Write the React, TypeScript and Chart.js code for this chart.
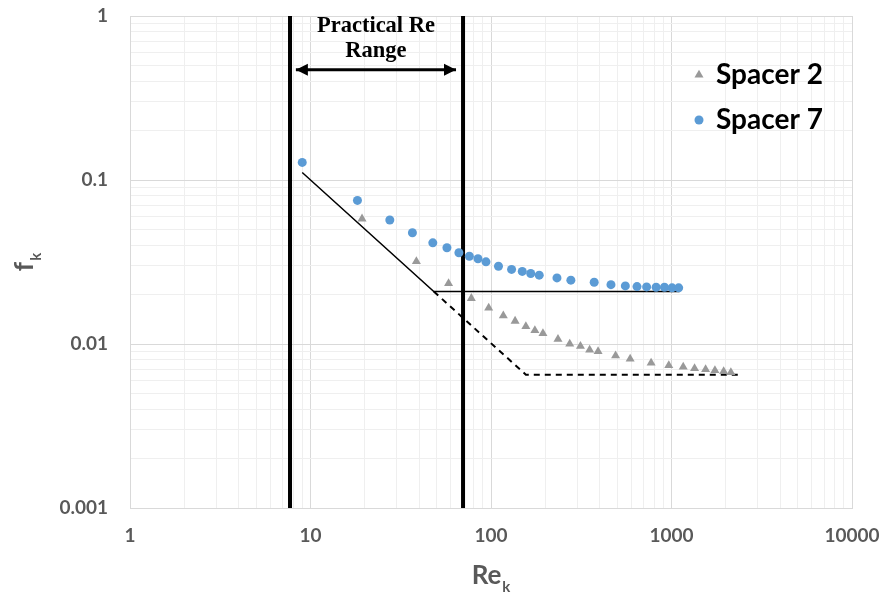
import React, { useEffect, useRef } from 'react';
import { Chart, registerables } from 'chart.js';

Chart.register(...registerables);

// ---------- data ----------
const X_TICK_LABELS = ['1', '10', '100', '1000', '10000'];
const Y_TICK_LABELS = ['0.001', '0.01', '0.1', '1'];

const SERIES_NAMES = ['Spacer 2', 'Spacer 7'];

const RE_SPACER2 = [19.3, 38.6, 58.2, 77.8, 97.1, 117, 136, 156, 175, 194, 235, 273, 313, 352, 392, 490, 590, 771, 966, 1161, 1342, 1545, 1740, 1945, 2133];
const F_SPACER2 = [0.058, 0.0319, 0.0234, 0.019, 0.0166, 0.0149, 0.0138, 0.0128, 0.0121, 0.0116, 0.0107, 0.0100, 0.0097, 0.0092, 0.0090, 0.0085, 0.0081, 0.00767, 0.0074, 0.00725, 0.0071, 0.0070, 0.0069, 0.0068, 0.0067];

const RE_SPACER7 = [9.0, 18.2, 27.5, 36.7, 47.6, 57, 66.4, 75.9, 84.7, 93.8, 110, 130, 149, 166, 185, 232, 277, 373, 462, 555, 644, 728, 822, 914, 1007, 1096];
const F_SPACER7 = [0.128, 0.0751, 0.057, 0.0477, 0.0414, 0.0386, 0.036, 0.0343, 0.0331, 0.0317, 0.0298, 0.0285, 0.0277, 0.0269, 0.0263, 0.0253, 0.0245, 0.0238, 0.023, 0.0226, 0.0224, 0.0223, 0.0222, 0.0222, 0.022, 0.022];

const TREND_SOLID_X = [9, 48.2, 1108];
const TREND_SOLID_Y = [0.111, 0.0209, 0.0209];
const TREND_DASH_X = [48.2, 156, 2355];
const TREND_DASH_Y = [0.0209, 0.0065, 0.0065];

const RANGE_LINES_X = [7.7, 70];
const ARROW_X = [8.3, 64];
const ARROW_Y = 0.47;
const ANNOTATION_LINES = ['Practical Re', 'Range'];

const X_TITLE = ['Re', 'k'];
const Y_TITLE = ['f', 'k'];

// ---------- helpers ----------
const AXIS_GRAY = '#595959';
const TICK_FONT = { family: 'Lato', size: 19, weight: 'bold' as const };

const pairs = (xs: number[], ys: number[]) => xs.map((x, i) => ({ x, y: ys[i] }));

const decadeTicks = (labels: string[]) => {
  const decades = labels.map(Number);
  const vals: number[] = [];
  for (let i = 0; i < decades.length - 1; i++) {
    for (let k = 1; k <= 9; k++) vals.push(decades[i] * k);
  }
  vals.push(decades[decades.length - 1]);
  return vals;
};

const labelFor = (labels: string[], v: number) => {
  const hit = labels.find((l) => Math.abs(Number(l) - v) / v < 1e-9);
  return hit ?? '';
};

const isDecade = (labels: string[], v: number | undefined) =>
  v !== undefined && labelFor(labels, v) !== '';

const zeroPadding = (s: any) => {
  s.paddingTop = 0;
  s.paddingBottom = 0;
  s.paddingLeft = 0;
  s.paddingRight = 0;
};

const annotationPlugin = {
  id: 'annotations',
  afterDatasetsDraw(chart: any) {
    const { ctx, chartArea, scales } = chart;
    const xs = scales.x;
    const ys = scales.y;
    ctx.save();

    // arrow heads
    const ay = ys.getPixelForValue(ARROW_Y);
    const ax0 = xs.getPixelForValue(ARROW_X[0]);
    const ax1 = xs.getPixelForValue(ARROW_X[1]);
    ctx.fillStyle = '#000';
    ctx.beginPath();
    ctx.moveTo(ax0, ay);
    ctx.lineTo(ax0 + 12, ay - 6);
    ctx.lineTo(ax0 + 12, ay + 6);
    ctx.closePath();
    ctx.fill();
    ctx.beginPath();
    ctx.moveTo(ax1, ay);
    ctx.lineTo(ax1 - 12, ay - 6);
    ctx.lineTo(ax1 - 12, ay + 6);
    ctx.closePath();
    ctx.fill();

    // annotation text
    const cx = (ax0 + ax1) / 2;
    ctx.font = 'bold 22.5px "Liberation Serif", "Times New Roman", serif';
    ctx.textAlign = 'center';
    ctx.textBaseline = 'alphabetic';
    ctx.fillStyle = '#000';
    ctx.fillText(ANNOTATION_LINES[0], cx, ay - 38);
    ctx.fillText(ANNOTATION_LINES[1], cx, ay - 13);

    // legend
    const lx = chartArea.right - 153;
    const ly = [chartArea.top + 59, chartArea.top + 104];
    ctx.fillStyle = '#999999';
    const r = 5.2;
    ctx.beginPath();
    ctx.moveTo(lx, ly[0] - r);
    ctx.lineTo(lx + r * Math.sin((2 * Math.PI) / 3), ly[0] - r * Math.cos((2 * Math.PI) / 3));
    ctx.lineTo(lx + r * Math.sin((4 * Math.PI) / 3), ly[0] - r * Math.cos((4 * Math.PI) / 3));
    ctx.closePath();
    ctx.fill();
    ctx.fillStyle = '#5B9BD5';
    ctx.beginPath();
    ctx.arc(lx, ly[1], 4.5, 0, Math.PI * 2);
    ctx.fill();
    ctx.fillStyle = '#000';
    ctx.font = 'bold 28px Lato, sans-serif';
    ctx.textAlign = 'left';
    ctx.textBaseline = 'middle';
    ctx.fillText(SERIES_NAMES[0], lx + 17, ly[0]);
    ctx.fillText(SERIES_NAMES[1], lx + 17, ly[1]);

    // x title with subscript
    ctx.fillStyle = AXIS_GRAY;
    ctx.textBaseline = 'alphabetic';
    ctx.textAlign = 'left';
    ctx.font = 'bold 26px Lato, sans-serif';
    const wMain = ctx.measureText(X_TITLE[0]).width;
    ctx.font = 'bold 15px Lato, sans-serif';
    const wSub = ctx.measureText(X_TITLE[1]).width;
    const xc = (chartArea.left + chartArea.right) / 2;
    const xStart = xc - (wMain + wSub + 1) / 2;
    const xBase = chartArea.bottom + 76;
    ctx.font = 'bold 26px Lato, sans-serif';
    ctx.fillText(X_TITLE[0], xStart, xBase);
    ctx.font = 'bold 15px Lato, sans-serif';
    ctx.fillText(X_TITLE[1], xStart + wMain + 1, xBase + 8);

    // y title with subscript (rotated)
    ctx.save();
    const yc = (chartArea.top + chartArea.bottom) / 2;
    ctx.translate(33, yc);
    ctx.rotate(-Math.PI / 2);
    ctx.font = 'bold 26px Lato, sans-serif';
    const yMain = ctx.measureText(Y_TITLE[0]).width;
    ctx.font = 'bold 15px Lato, sans-serif';
    const ySub = ctx.measureText(Y_TITLE[1]).width;
    const yStart = -(yMain + ySub + 1) / 2;
    ctx.font = 'bold 26px Lato, sans-serif';
    ctx.fillText(Y_TITLE[0], yStart, 0);
    ctx.font = 'bold 15px Lato, sans-serif';
    ctx.fillText(Y_TITLE[1], yStart + yMain + 1, 8);
    ctx.restore();

    ctx.restore();
  },
};

export default function App() {
  const ref = useRef<HTMLCanvasElement>(null);

  useEffect(() => {
    document.body.style.margin = '0';
    let chart: Chart | null = null;
    let cancelled = false;

    const xTickVals = decadeTicks(X_TICK_LABELS);
    const yTickVals = decadeTicks(Y_TICK_LABELS);
    const yMin = Number(Y_TICK_LABELS[0]);
    const yMax = Number(Y_TICK_LABELS[Y_TICK_LABELS.length - 1]);

    const build = () => {
      if (cancelled || !ref.current) return;
      chart = new Chart(ref.current, {
        type: 'scatter',
        data: {
          datasets: [
            {
              label: SERIES_NAMES[1],
              data: pairs(RE_SPACER7, F_SPACER7),
              pointStyle: 'circle',
              pointRadius: 4.5,
              pointBorderWidth: 0,
              backgroundColor: '#5B9BD5',
              borderColor: '#5B9BD5',
              showLine: false,
            },
            {
              label: SERIES_NAMES[0],
              data: pairs(RE_SPACER2, F_SPACER2),
              pointStyle: 'triangle',
              pointRadius: 5.2,
              pointBorderWidth: 0,
              backgroundColor: '#999999',
              borderColor: '#999999',
              showLine: false,
            },
            {
              label: 'trend',
              data: pairs(TREND_SOLID_X, TREND_SOLID_Y),
              showLine: true,
              pointRadius: 0,
              borderColor: '#000',
              borderWidth: 1.5,
            },
            {
              label: 'trend dashed',
              data: pairs(TREND_DASH_X, TREND_DASH_Y),
              showLine: true,
              pointRadius: 0,
              borderColor: '#000',
              borderWidth: 2,
              borderDash: [6, 5],
            },
            {
              label: 'arrow',
              data: pairs(ARROW_X, [ARROW_Y, ARROW_Y]),
              showLine: true,
              pointRadius: 0,
              borderColor: '#000',
              borderWidth: 3,
            },
            {
              label: 'range lo',
              data: pairs([RANGE_LINES_X[0], RANGE_LINES_X[0]], [yMin, yMax]),
              showLine: true,
              pointRadius: 0,
              borderColor: '#000',
              borderWidth: 4,
            },
            {
              label: 'range hi',
              data: pairs([RANGE_LINES_X[1], RANGE_LINES_X[1]], [yMin, yMax]),
              showLine: true,
              pointRadius: 0,
              borderColor: '#000',
              borderWidth: 4,
            },
          ],
        },
        options: {
          animation: false,
          responsive: true,
          maintainAspectRatio: false,
          layout: { padding: { top: 16, right: 31, left: 0, bottom: 0 } },
          plugins: {
            legend: { display: false },
            tooltip: { enabled: false },
          },
          scales: {
            x: {
              type: 'logarithmic',
              min: Number(X_TICK_LABELS[0]),
              max: Number(X_TICK_LABELS[X_TICK_LABELS.length - 1]),
              afterBuildTicks: (s: any) => {
                s.ticks = xTickVals.map((v) => ({ value: v, major: isDecade(X_TICK_LABELS, v) }));
              },
              afterFit: (s: any) => {
                s.height = 89;
                zeroPadding(s);
              },
              ticks: {
                autoSkip: false,
                maxRotation: 0,
                padding: 16,
                color: AXIS_GRAY,
                font: TICK_FONT,
                callback: (v: any) => labelFor(X_TICK_LABELS, Number(v)),
              },
              grid: {
                drawTicks: false,
                color: (c: any) => (isDecade(X_TICK_LABELS, c.tick?.value) ? '#d9d9d9' : '#efefef'),
              },
              border: { color: '#d9d9d9' },
            },
            y: {
              type: 'logarithmic',
              min: yMin,
              max: yMax,
              afterBuildTicks: (s: any) => {
                s.ticks = yTickVals.map((v) => ({ value: v, major: isDecade(Y_TICK_LABELS, v) }));
              },
              afterFit: (s: any) => {
                s.width = 130;
                zeroPadding(s);
              },
              ticks: {
                autoSkip: false,
                padding: 22,
                color: AXIS_GRAY,
                font: TICK_FONT,
                callback: (v: any) => labelFor(Y_TICK_LABELS, Number(v)),
              },
              grid: {
                drawTicks: false,
                color: (c: any) => (isDecade(Y_TICK_LABELS, c.tick?.value) ? '#d9d9d9' : '#efefef'),
              },
              border: { color: '#d9d9d9' },
            },
          },
        },
        plugins: [annotationPlugin],
      } as any);
    };

    const fonts = (document as any).fonts;
    const loads = fonts
      ? Promise.all([
          fonts.load('bold 18px Lato'),
          fonts.load('bold 22px "Liberation Serif"'),
        ])
      : Promise.resolve();
    loads.catch(() => undefined).then(build);

    return () => {
      cancelled = true;
      if (chart) chart.destroy();
    };
  }, []);

  return (
    <div style={{ width: 883, height: 597, position: 'relative' }}>
      <canvas ref={ref} />
    </div>
  );
}
